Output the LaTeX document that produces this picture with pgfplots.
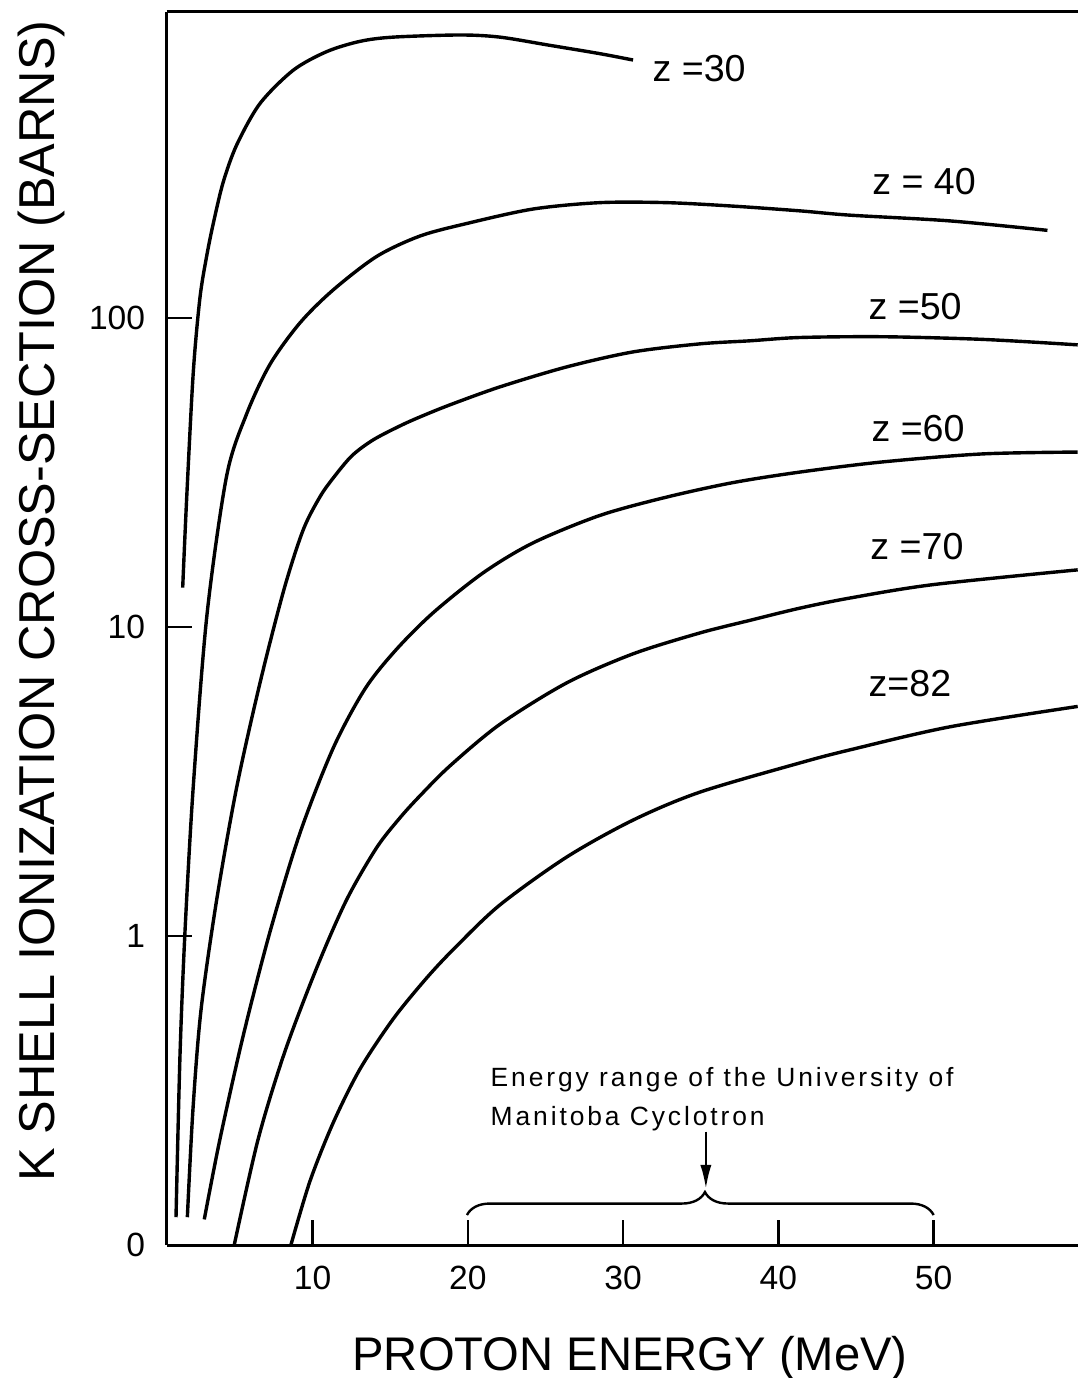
\documentclass[border=0pt]{standalone}
\usepackage{fontspec}
\setmainfont{Liberation Sans}
\newfontfamily\spacedfont[LetterSpace=11]{Liberation Sans}
\usepackage{pgfplots}
\pgfplotsset{compat=1.18}
\usetikzlibrary{decorations.pathreplacing,arrows.meta}

\begin{document}
\begin{tikzpicture}
\path[use as bounding box] (-41.675pt,-33.25pt) rectangle (227.825pt,311.25pt);
\begin{axis}[
  name=ax, at={(0pt,0pt)}, anchor=south west,
  scale only axis, width=227.825pt, height=308.25pt,
  xmin=0.6, xmax=59.3,
  ymode=log, ymin=0.1, ymax=977,
  axis lines*=left,
  axis line style={line width=0.75pt, black},
  tick align=inside,
  major tick length=6.25pt,
  tick style={line width=0.6pt, black},
  xtick={10,20,30,40,50}, xticklabels={10,20,30,40,50},
  ytick={0.1,1,10,100}, yticklabels={0,1,10,100},
  xminorticks=false, yminorticks=false,
  xticklabel style={font=\fontsize{8.4}{10}\selectfont, inner sep=0pt, anchor=north, yshift=-5pt},
  yticklabel style={font=\fontsize{8.4}{10}\selectfont, inner sep=0pt, anchor=east, xshift=-5.2pt},
  xlabel={PROTON ENERGY (MeV)},
  xlabel style={font=\fontsize{11.8}{14}\selectfont, at={(axis description cs:0.5084,-0.10138)}, anchor=base, inner sep=0pt},
  ylabel={K SHELL IONIZATION CROSS-SECTION (BARNS)},
  ylabel style={font=\fontsize{12.6}{15}\selectfont, at={(axis description cs:-0.12257,0.5223)}, anchor=base, inner sep=0pt},
  zcurve/.style={black, solid, line width=0.85pt, smooth, no markers},
]
% Z = 30
\addplot[zcurve] coordinates {(1.63,13.4) (1.89,26.3) (2.31,66.5) (2.74,116) (3.17,158) (3.60,202) (4.24,275) (5.11,363) (6.61,494) (8.75,633) (10.90,727) (13.05,785) (15.19,810) (19.48,823) (22.06,810) (25.28,762) (28.51,716) (30.64,683)};
% Z = 40
\addplot[zcurve] coordinates {(1.20,0.123) (1.455,0.409) (1.777,1.03) (2.31,3.04) (3.19,10.9) (4.46,30.8) (5.75,48.9) (7.25,70.7) (9.18,96.3) (11.31,123) (14.12,158) (16.91,184) (19.92,202) (24.19,225) (28.50,236) (32.79,236) (37.06,230) (41.38,222) (44.60,215) (51.04,206) (57.33,192)};
% Z = 50
\addplot[zcurve] coordinates {(1.93,0.123) (2.29,0.274) (2.81,0.576) (3.82,1.31) (5.11,3.03) (6.61,6.59) (8.15,13.2) (9.39,20.6) (10.47,26.35) (11.33,30.35) (12.53,35.8) (13.90,40.3) (15.62,44.7) (16.91,47.8) (18.84,52.3) (22.06,59.8) (26.36,69.4) (30.63,77.6) (34.94,82.4) (38.16,84.3) (41.38,86.4) (46.72,86.9) (53.16,85.2) (59.28,81.8)};
% Z = 60
\addplot[zcurve] coordinates {(3.02,0.121) (4.03,0.220) (5.53,0.476) (7.25,1.03) (9.18,2.15) (11.33,4.06) (13.37,6.30) (15.36,8.42) (17.75,11.1) (20.97,14.95) (24.19,18.7) (28.50,22.95) (32.79,26.3) (37.06,29.3) (41.38,31.7) (46.72,34.2) (53.16,36.3) (59.28,36.8)};
% Z = 70
\addplot[zcurve] coordinates {(4.95,0.1) (6.48,0.219) (8.18,0.418) (10.26,0.788) (12.19,1.31) (14.12,1.93) (15.62,2.41) (16.91,2.84) (18.84,3.55) (22.06,4.84) (26.36,6.59) (30.63,8.18) (34.94,9.56) (38.16,10.5) (41.38,11.5) (44.60,12.4) (49.94,13.7) (59.28,15.3)};
% Z = 82
\addplot[zcurve] coordinates {(8.60,0.1) (9.83,0.161) (11.33,0.249) (13.05,0.371) (15.19,0.539) (17.34,0.731) (19.16,0.915) (22.06,1.26) (26.36,1.80) (30.63,2.37) (34.94,2.92) (41.38,3.63) (44.60,4.00) (51.04,4.75) (59.28,5.53)};

% curve labels
\begin{scope}[every node/.style={anchor=base west, inner sep=0pt, font=\fontsize{9.4}{11}\selectfont}]
\node at (axis cs:31.85,580) {z =30};
\node at (axis cs:46.0,250) {z = 40};
\node at (axis cs:45.76,98.5) {z =50};
\node at (axis cs:45.95,39.7) {z =60};
\node at (axis cs:45.88,16.5) {z =70};
\node at (axis cs:45.76,5.94) {z=82};
\end{scope}

% cyclotron energy range
\node[anchor=base west, inner sep=0pt, font=\spacedfont\fontsize{6.6}{8}\selectfont] at (axis cs:21.42,0.3246) {Energy range of the University of};
\node[anchor=base west, inner sep=0pt, font=\spacedfont\fontsize{6.6}{8}\selectfont] at (axis cs:21.42,0.2445) {Manitoba Cyclotron};
\draw[line width=0.6pt, -{Latex[length=6pt,width=2.8pt]}] (axis cs:35.33,0.2326) -- (axis cs:35.33,0.152);
\draw[line width=0.6pt, decorate, decoration={brace, amplitude=5.75pt, aspect=0.51}] (axis cs:19.94,0.125) -- (axis cs:50.0,0.125);
\end{axis}
\draw[line width=0.75pt] (ax.north west) -- (ax.north east);
\end{tikzpicture}
\end{document}
